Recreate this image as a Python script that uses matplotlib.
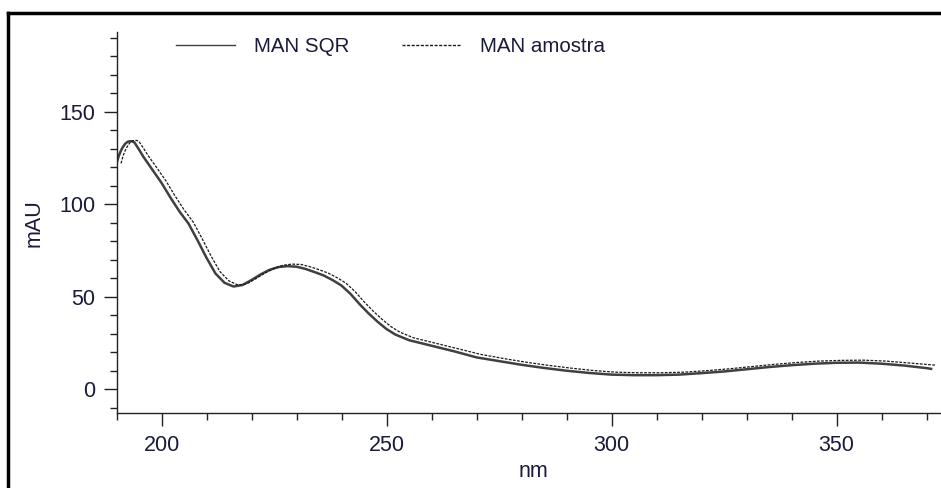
import matplotlib
matplotlib.use("Agg")
import matplotlib.pyplot as plt
from matplotlib.lines import Line2D
from matplotlib.ticker import MultipleLocator

plt.rcParams['font.family'] = ['Liberation Sans', 'DejaVu Sans']

# MAN SQR (solid)
nm_sqr = [190, 190.5, 191, 191.5, 192, 192.5, 193, 193.5, 194, 195, 196, 198, 200, 202, 204, 206,
          208, 210, 212, 214, 216, 218, 220, 222, 224, 226, 228, 230, 232, 234, 236, 238,
          240, 242, 244, 246, 248, 250, 252, 255, 260, 265, 270, 275, 280, 285, 290, 295,
          300, 305, 310, 315, 320, 325, 330, 335, 340, 345, 350, 355, 360, 365, 370, 371]
mau_sqr = [122, 126, 129, 131.2, 132.8, 133.7, 134, 133.9, 133.3, 129.5, 125.5, 118.5, 111.5, 103.5, 96, 89.5,
           80.5, 71, 62.5, 57.5, 55.5, 56.3, 59, 62, 64.5, 66, 66.5, 66.2, 65, 63.3, 61.5, 59,
           56, 51.5, 46, 41, 36.5, 32.5, 29.5, 26.5, 23.5, 20.5, 17.2, 15.2, 13.2, 11.5, 10, 8.8,
           7.9, 7.6, 7.6, 7.9, 8.7, 9.6, 10.8, 12, 13, 13.8, 14.3, 14.4, 13.8, 12.8, 11.4, 11.0]

# MAN amostra (dashed)
nm_amo = [191, 191.5, 192, 192.5, 193, 193.5, 194, 194.5, 195, 196, 197, 199, 201, 203, 205, 207,
          209, 211, 213, 215, 217, 219, 221, 223, 225, 227, 229, 231, 233, 235, 237, 239,
          241, 243, 245, 247, 249, 251, 253, 256, 261, 266, 271, 276, 281, 286, 291, 296,
          301, 306, 311, 316, 321, 326, 331, 336, 341, 346, 351, 356, 361, 366, 371, 372]
mau_amo = [122, 126.3, 129.3, 131.6, 133.2, 134.1, 134.5, 134.4, 133.8, 130.2, 126.3, 119.5, 112.5, 104.5, 97, 90.5,
           81.5, 72, 63.5, 58.5, 56.3, 57, 59.8, 62.8, 65.3, 67, 67.6, 67.4, 66.2, 64.6, 62.8, 60.3,
           57.3, 52.8, 47.3, 42.3, 37.8, 33.8, 30.8, 27.8, 24.8, 21.8, 18.8, 16.6, 14.6, 12.9, 11.4, 10.1,
           9.2, 8.9, 8.9, 9.2, 10, 11, 12.2, 13.4, 14.4, 15.2, 15.6, 15.7, 15.2, 14.2, 13.2, 13.0]

labels = ["MAN SQR", "MAN amostra"]
yticks = [0, 50, 100, 150]
xticks = [200, 250, 300, 350]

W, H = 941, 488
fig = plt.figure(figsize=(W / 100, H / 100), dpi=100)
ax = fig.add_axes([116.5 / W, 1 - 413.3 / H, (W - 116.5) / W, (413.3 - 32) / H])

ax.plot(nm_sqr, mau_sqr, color='#404040', lw=1.8, label=labels[0])
ax.plot(nm_amo, mau_amo, color='#1a1a1a', lw=0.9, dashes=(2.2, 1.1), label=labels[1])

ax.set_xlim(190, 373.2)
ax.set_ylim(-13, 193)
ax.set_xticks(xticks)
ax.set_yticks(yticks)
ax.xaxis.set_minor_locator(MultipleLocator(10))
ax.yaxis.set_minor_locator(MultipleLocator(10))

for s in ['top', 'right']:
    ax.spines[s].set_visible(False)
for s in ['left', 'bottom']:
    ax.spines[s].set_linewidth(1.0)
    ax.spines[s].set_color('#222222')

txtc = '#1a1a3a'
ax.tick_params(which='major', direction='out', length=9.4, width=1.0, color='#222222',
               labelsize=15.5, labelcolor=txtc, pad=6)
ax.tick_params(which='minor', direction='out', length=5, width=1.0, color='#222222')

ax.set_xlabel('nm', fontsize=15.5, color=txtc)
ax.xaxis.set_label_coords((533 - 116.5) / 824.5, -(482 - 413.3) / 381.3)
ax.xaxis.label.set_va('bottom')
ax.set_ylabel('mAU', fontsize=15.5, color=txtc)
ax.yaxis.set_label_coords((45 - 116.5) / 824.5, 0.5)

leg = ax.legend(loc='upper left', bbox_to_anchor=(0.05, 1.035), ncol=2, frameon=False,
                fontsize=14.8, handlelength=2.85, handletextpad=0.95, columnspacing=2.55,
                labelcolor=txtc)
for h in leg.get_lines():
    h.set_linewidth(1.0)

# figure border (top and left)
fig.add_artist(Line2D([8 / W, 1.0], [1 - 12.5 / H, 1 - 12.5 / H], transform=fig.transFigure,
                      color='black', lw=2.5))
fig.add_artist(Line2D([8 / W, 8 / W], [0, 1 - 12.5 / H], transform=fig.transFigure,
                      color='black', lw=2.5))

fig.savefig('out.png', dpi=100)
